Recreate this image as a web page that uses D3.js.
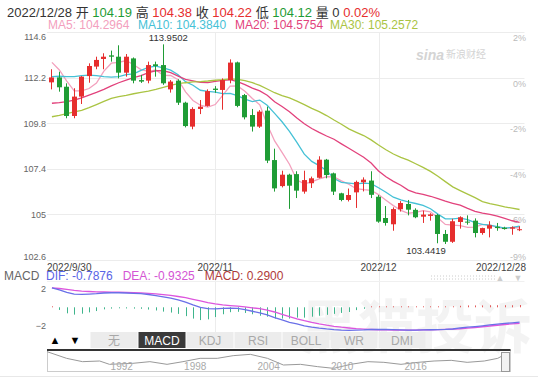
<!DOCTYPE html>
<html>
<head>
<meta charset="utf-8">
<script src="https://cdn.jsdelivr.net/npm/d3@7"></script>
<style>
  body { margin: 0; background: #fff; }
  svg { display: block; font-family: Arial, "Liberation Sans", "Noto Sans CJK SC", sans-serif; }
</style>
</head>
<body>
<div class="chart"></div>
<script>
//daily candles 2022/9/30 - 2022/12/28 (one per weekday)
var opens = [111.95, 112.21, 111.72, 110.18, 111.2, 112.28, 112.78, 113.18, 113.37, 113.3,
  112.46, 113.21, 112.07, 112.04, 112.9, 112.86, 111.58, 112.04, 110.88, 109.62,
  110.55, 110.71, 111.62, 111.55, 112.07, 113.0, 111.28, 110.23, 109.62, 110.46,
  107.86, 106.49, 107.09, 107.12, 106.2, 106.64, 106.93, 107.88, 107.16, 106.11,
  105.76, 106.16, 106.69, 106.78, 105.93, 104.81, 104.48, 105.27, 105.55, 105.24,
  104.88, 104.92, 104.97, 103.97, 103.56, 104.6, 104.62, 104.67, 104.02, 104.25,
  104.35, 104.3, 104.25, 104.19];
var highs = [112.64, 112.51, 111.9, 111.64, 112.28, 112.95, 113.3, 113.48, 113.62, 113.9,
  113.44, 113.26, 112.34, 113.04, 113.04, 113.9502, 112.07, 112.11, 110.93, 110.64,
  111.02, 111.58, 111.75, 112.16, 113.16, 113.04, 111.34, 110.55, 110.49, 110.67,
  108.46, 107.3, 107.14, 107.27, 107.3, 106.99, 108.06, 107.92, 107.2, 106.14,
  106.36, 106.78, 106.95, 107.27, 106.02, 105.44, 105.37, 105.7, 105.76, 105.32,
  105.2, 105.06, 105.02, 104.18, 104.77, 104.9, 104.95, 104.79, 104.3, 104.64,
  104.55, 104.35, 104.37, 104.38];
var lows = [111.58, 111.46, 110.06, 110.06, 110.81, 111.93, 112.64, 112.64, 113.04, 112.16,
  112.25, 111.9, 111.92, 111.9, 112.25, 111.82, 111.41, 110.76, 109.58, 109.48,
  110.28, 110.67, 111.4, 110.51, 111.9, 110.64, 110.0, 109.36, 109.55, 107.7,
  106.2, 106.42, 105.29, 105.86, 106.09, 106.39, 106.9, 106.9, 106.02, 105.69,
  105.68, 105.34, 106.21, 105.86, 104.56, 104.41, 104.14, 105.15, 104.95, 104.8,
  104.55, 104.67, 103.48, 103.4419, 103.5, 104.25, 104.46, 103.79, 103.93, 103.79,
  104.14, 104.2, 103.93, 104.12];
var closes = [112.21, 111.69, 110.18, 111.2, 112.25, 112.81, 113.13, 113.3, 113.3, 112.46,
  113.3, 112.04, 111.99, 112.86, 112.81, 111.9, 111.99, 110.88, 109.65, 110.55,
  110.67, 111.49, 111.55, 112.07, 112.99, 110.71, 110.11, 109.62, 110.41, 107.83,
  106.37, 107.09, 106.51, 106.25, 106.807, 106.9, 107.88, 107.07, 106.2, 105.76,
  106.02, 106.71, 106.83, 106.03, 104.62, 104.55, 105.28, 105.6, 105.248, 104.85,
  104.99, 105.0, 103.97, 103.56, 104.64, 104.85, 104.568, 104.02, 104.28, 104.432,
  104.28, 104.23, 104.32, 104.22];

//moving average values before the window fills
var ma5Head = [113.0, 112.6, 112.02, 111.5];
var ma10Head = [112.25, 112.27, 112.25, 112.25, 112.3, 112.33, 112.3, 112.25, 112.22];
var ma20Head = [110.85, 110.88, 110.93, 111.02, 111.13, 111.28, 111.42, 111.58, 111.76, 111.93,
  112.07, 112.2, 112.3, 112.46, 112.56, 112.56, 112.46, 112.28, 112.11];
var ma30Head = [110.14, 110.21, 110.3, 110.39, 110.48, 110.62, 110.78, 110.95, 111.11, 111.2,
  111.27, 111.35, 111.42, 111.49, 111.58, 111.69, 111.79, 111.88, 111.93, 111.97,
  111.99, 112.02, 112.06, 112.09, 112.13, 112.11, 112.04, 111.93, 111.79];

//MACD lines
var dif = [2.07, 1.86, 1.58, 1.41, 1.38, 1.41, 1.45, 1.52, 1.55, 1.55,
  1.52, 1.49, 1.45, 1.36, 1.25, 1.12, 0.98, 0.8, 0.55, 0.25,
  0.0, -0.14, -0.16, -0.12, -0.08, -0.12, -0.25, -0.42, -0.6, -0.8,
  -1.1, -1.35, -1.6, -1.77, -1.97, -2.1, -2.21, -2.3, -2.37, -2.42,
  -2.45, -2.42, -2.4, -2.36, -2.35, -2.36, -2.38, -2.41, -2.43, -2.42,
  -2.41, -2.39, -2.37, -2.35, -2.31, -2.2, -2.12, -2.05, -1.97, -1.88,
  -1.8, -1.72, -1.65, -1.58];
var dea = [2.07, 2.0, 1.9, 1.8, 1.72, 1.68, 1.65, 1.63, 1.62, 1.6,
  1.58, 1.56, 1.53, 1.48, 1.42, 1.35, 1.26, 1.15, 1.02, 0.85,
  0.68, 0.5, 0.36, 0.25, 0.18, 0.12, 0.05, -0.05, -0.15, -0.3,
  -0.5, -0.75, -1.0, -1.22, -1.42, -1.6, -1.76, -1.9, -2.02, -2.12,
  -2.2, -2.27, -2.32, -2.36, -2.39, -2.41, -2.42, -2.43, -2.43, -2.42,
  -2.41, -2.39, -2.37, -2.35, -2.32, -2.28, -2.22, -2.15, -2.07, -1.99,
  -1.91, -1.83, -1.76, -1.7];

//axis ticks and labels
var priceTicks = [114.6, 112.2, 109.8, 107.4, 105, 102.6];
var macdTicks = [2, -2];
var dateTicks = [0, 22, 44, 63];
var dateLabels = ["2022/9/30", "2022/11", "2022/12", "2022/12/28"];
var tabLabels = ["无", "MACD", "KDJ", "RSI", "BOLL", "WR", "DMI"];

//long history for the navigator strip
var navYears = [1985.9, 1987.5, 1988.8, 1990.2, 1991.0, 1992.9, 1994.3, 1995.7, 1997.0, 1998.4,
  1999.8, 2001.1, 2002.5, 2003.9, 2005.2, 2006.6, 2008.0, 2009.3, 2010.7, 2012.1,
  2013.4, 2014.8, 2016.2, 2017.5, 2018.9, 2020.2, 2021.6, 2022.7, 2023.2];
var navValues = [125, 105, 95, 97, 87, 90, 95, 87, 95, 105,
  105, 113, 117, 105, 85, 87, 80, 75, 87, 95,
  93, 87, 93, 97, 99, 93, 97, 105, 115];
var navLabels = [1992, 1998, 2004, 2010, 2016];

var upColor = "#e62e2e";
var downColor = "#1f9c35";
var maColors = ["#f3a0bd", "#45c1d6", "#e2427c", "#aac443"];

var svgWidth = 538;
var svgHeight = 385;

var plot = { left: 47, right: 524.5, top: 32, bottom: 260 };

var svg = d3.select(".chart")
  .append("svg")
  .attr("width", svgWidth)
  .attr("height", svgHeight);

//scales
var xScale = d3.scaleBand()
  .domain(d3.range(closes.length))
  .range([plot.left, plot.right])
  .padding(0.33);

function cx(i) {
  return xScale(i) + xScale.bandwidth() / 2;
}

var yScale = d3.scaleLinear()
  .domain([102.6, 114.6])
  .range([plot.bottom, plot.top]);

var macdScale = d3.scaleLinear()
  .domain([-2, 2])
  .range([326.1, 288.5]);

//moving averages from the closes, head values where the window is not full
function movingAverage(n, head) {
  return closes.map(function(c, i) {
    if (i < n - 1) return head[i];
    return d3.mean(closes.slice(i - n + 1, i + 1));
  });
}
var maSeries = [
  movingAverage(5, ma5Head),
  movingAverage(10, ma10Head),
  movingAverage(20, ma20Head),
  movingAverage(30, ma30Head)
];
var macdHist = dif.map(function(d, i) { return 2 * (d - dea[i]); });

//grid
var grid = svg.append("g");
grid.selectAll(".hgrid")
  .data(priceTicks)
  .enter()
  .append("line")
  .attr("x1", plot.left)
  .attr("x2", plot.right)
  .attr("y1", d => Math.round(yScale(d)) + 0.5)
  .attr("y2", d => Math.round(yScale(d)) + 0.5)
  .attr("stroke", "#ececec");

grid.selectAll(".vgrid")
  .data(dateTicks.slice(1, 3))
  .enter()
  .append("line")
  .attr("x1", d => Math.round(cx(d)) + 0.5)
  .attr("x2", d => Math.round(cx(d)) + 0.5)
  .attr("y1", plot.top)
  .attr("y2", 332)
  .attr("stroke", "#ececec");

grid.append("line")
  .attr("x1", plot.left).attr("x2", plot.right)
  .attr("y1", 281.5).attr("y2", 281.5)
  .attr("stroke", "#f0f0f0");

//watermarks
svg.append("text")
  .attr("x", 300).attr("y", 348)
  .attr("font-size", 58)
  .attr("font-weight", "bold")
  .attr("fill", "#000")
  .attr("opacity", 0.045)
  .attr("font-family", "'Noto Sans CJK SC', sans-serif")
  .text("黑猫投诉");

svg.append("text")
  .attr("x", 416).attr("y", 60)
  .attr("font-size", 14)
  .attr("font-weight", "bold")
  .attr("font-style", "italic")
  .attr("fill", "#d4d4d4")
  .text("sina");
svg.append("text")
  .attr("x", 446).attr("y", 58)
  .attr("font-size", 10)
  .attr("fill", "#d4d4d4")
  .text("新浪财经");

//left price axis
var leftAxis = d3.axisLeft(yScale).tickValues(priceTicks).tickSize(0).tickPadding(1)
  .tickFormat(d3.format(""));
var yAxis = svg.append("g")
  .attr("transform", `translate(${plot.left}, 0)`)
  .call(leftAxis);
yAxis.select(".domain").remove();
yAxis.selectAll("text")
  .attr("font-size", 9)
  .attr("font-family", "Arial, 'Liberation Sans', sans-serif")
  .attr("fill", "#666")
  .attr("dy", (d, i) => i === 0 ? "0.85em" : (i === priceTicks.length - 1 ? "-0.1em" : "0.32em"));

//right percent axis, relative to the first close
var rightAxis = d3.axisLeft(yScale).tickValues(priceTicks).tickSize(0).tickPadding(0)
  .tickFormat(d => Math.round((d / closes[0] - 1) * 100) + "%");
var pctAxis = svg.append("g")
  .attr("transform", `translate(526, 0)`)
  .call(rightAxis);
pctAxis.select(".domain").remove();
pctAxis.selectAll("text")
  .attr("font-size", 9)
  .attr("font-family", "Arial, 'Liberation Sans', sans-serif")
  .attr("fill", "#bbb")
  .attr("dy", (d, i) => i === priceTicks.length - 1 ? "-0.1em" : "0.95em");

//date labels
svg.append("g")
  .selectAll("text")
  .data(dateTicks)
  .enter()
  .append("text")
  .attr("x", (d, i) => i === 0 ? plot.left : (i === dateTicks.length - 1 ? 526 : cx(d)))
  .attr("y", 270.5)
  .attr("text-anchor", (d, i) => i === 0 ? "start" : (i === dateTicks.length - 1 ? "end" : "middle"))
  .attr("font-size", 10)
  .attr("fill", "#444")
  .text((d, i) => dateLabels[i]);

//moving average lines
var maLine = d3.line()
  .x((d, i) => cx(i))
  .y(d => yScale(d));

svg.append("g")
  .selectAll("path")
  .data(maSeries)
  .enter()
  .append("path")
  .attr("d", maLine)
  .attr("fill", "none")
  .attr("stroke", (d, i) => maColors[i])
  .attr("stroke-width", 1.3);

//candles
var candles = svg.append("g")
  .selectAll("g")
  .data(closes)
  .enter()
  .append("g");

candles.append("line")
  .attr("x1", (d, i) => Math.round(cx(i) - 2.5) + 2.5)
  .attr("x2", (d, i) => Math.round(cx(i) - 2.5) + 2.5)
  .attr("y1", (d, i) => yScale(highs[i]))
  .attr("y2", (d, i) => yScale(lows[i]))
  .attr("stroke", (d, i) => d >= opens[i] ? upColor : downColor);

candles.append("rect")
  .attr("x", (d, i) => Math.round(cx(i) - 2.5))
  .attr("width", 5)
  .attr("y", (d, i) => yScale(Math.max(d, opens[i])))
  .attr("height", (d, i) => Math.max(1, Math.abs(yScale(d) - yScale(opens[i]))))
  .attr("fill", (d, i) => d >= opens[i] ? upColor : downColor);

//highest and lowest marks
var hiIdx = d3.maxIndex(highs);
var loIdx = d3.minIndex(lows);
svg.append("text")
  .attr("x", cx(hiIdx) + 5)
  .attr("y", yScale(highs[hiIdx]) - 3.5)
  .attr("text-anchor", "middle")
  .attr("font-size", 9.5)
  .attr("fill", "#333")
  .text(highs[hiIdx].toFixed(4));
svg.append("text")
  .attr("x", cx(loIdx) + 0.5)
  .attr("y", yScale(lows[loIdx]) + 9.5)
  .attr("text-anchor", "end")
  .attr("font-size", 9.5)
  .attr("fill", "#333")
  .text(lows[loIdx].toFixed(4));

//header lines
var last = closes.length - 1;
var head1 = svg.append("text")
  .attr("x", 7).attr("y", 17.3)
  .attr("font-size", 13);
var head1Parts = [
  ["2022/12/28 开 ", "#333"], [opens[last].toFixed(2), downColor],
  [" 高 ", "#333"], [highs[last].toFixed(2), upColor],
  [" 收 ", "#333"], [closes[last].toFixed(2), upColor],
  [" 低 ", "#333"], [lows[last].toFixed(2), downColor],
  [" 量 0 ", "#333"], ["0.02%", upColor]
];
head1.selectAll("tspan")
  .data(head1Parts)
  .enter()
  .append("tspan")
  .attr("fill", d => d[1])
  .text(d => d[0]);

var maNames = ["MA5", "MA10", "MA20", "MA30"];
var maHeadX = [48, 138, 235, 330];
svg.append("g")
  .selectAll("text")
  .data(maSeries)
  .enter()
  .append("text")
  .attr("x", (d, i) => maHeadX[i])
  .attr("y", 29)
  .attr("font-size", 12)
  .attr("fill", (d, i) => maColors[i])
  .text((d, i) => `${maNames[i]}: ${d[last].toFixed(4)}`);

//MACD panel
var macdHead = svg.append("text")
  .attr("x", 4).attr("y", 280)
  .attr("font-size", 12);
var macdParts = [
  ["MACD  ", "#666"],
  ["DIF: -0.7876   ", "#5a64e6"],
  ["DEA: -0.9325   ", "#d455d4"],
  ["MACD: 0.2900", "#b03a3a"]
];
macdHead.selectAll("tspan")
  .data(macdParts)
  .enter()
  .append("tspan")
  .attr("fill", d => d[1])
  .attr("xml:space", "preserve")
  .text(d => d[0]);

var macdAxis = svg.append("g")
  .attr("transform", `translate(${plot.left}, 0)`)
  .call(d3.axisLeft(macdScale).tickValues(macdTicks).tickSize(0).tickPadding(1).tickFormat(d3.format("d")));
macdAxis.select(".domain").remove();
macdAxis.selectAll("text")
  .attr("font-size", 9)
  .attr("font-family", "Arial, 'Liberation Sans', sans-serif")
  .attr("fill", "#666");

svg.append("g")
  .selectAll("line")
  .data(macdHist)
  .enter()
  .append("line")
  .attr("x1", (d, i) => Math.round(cx(i)) + 0.5)
  .attr("x2", (d, i) => Math.round(cx(i)) + 0.5)
  .attr("y1", macdScale(0))
  .attr("y2", d => macdScale(0) - (d >= 0 ? Math.max(1, macdScale(0) - macdScale(d)) : -Math.max(1, macdScale(d) - macdScale(0))))
  .attr("stroke", d => d >= 0 ? "#e25b5b" : "#3fb58c");

var macdLine = d3.line()
  .x((d, i) => cx(i))
  .y(d => macdScale(d));
svg.append("path").attr("d", macdLine(dea)).attr("fill", "none").attr("stroke", "#dd55dd").attr("stroke-width", 1.3);
svg.append("path").attr("d", macdLine(dif)).attr("fill", "none").attr("stroke", "#6a70e8").attr("stroke-width", 1.3);

//zoom handle at top right of MACD panel
[276, 279].forEach(function(y) {
  svg.append("line")
    .attr("x1", 431).attr("x2", 495)
    .attr("y1", y).attr("y2", y)
    .attr("stroke", "#ccc")
    .attr("stroke-dasharray", "1,2");
});
svg.append("text").attr("x", 500).attr("y", 281).attr("font-size", 9).attr("fill", "#ccc")
  .attr("text-anchor", "middle").text("▲");
svg.append("text").attr("x", 518).attr("y", 281).attr("font-size", 9).attr("fill", "#ccc")
  .attr("text-anchor", "middle").text("▼");

//indicator tabs
svg.append("text").attr("x", 55).attr("y", 344).attr("font-size", 11).attr("text-anchor", "middle").text("▲");
svg.append("text").attr("x", 75).attr("y", 344).attr("font-size", 11).attr("text-anchor", "middle").text("▼");

var tabs = svg.append("g")
  .selectAll("g")
  .data(tabLabels)
  .enter()
  .append("g")
  .attr("transform", (d, i) => `translate(${90.5 + i * 48}, 332)`);
tabs.append("rect")
  .attr("width", 47)
  .attr("height", 16)
  .attr("fill", d => d === "MACD" ? "#3a3a3a" : "#ececec");
tabs.append("text")
  .attr("x", 23.5)
  .attr("y", 12.5)
  .attr("text-anchor", "middle")
  .attr("font-size", 12)
  .attr("fill", d => d === "MACD" ? "#fff" : "#a8a8a8")
  .text(d => d);

//navigator strip
var navX = d3.scaleLinear().domain([1985.9, 2023.7]).range([plot.left, 510]);
var navY = d3.scaleLinear().domain([70, 130]).range([370, 350]);

svg.append("rect")
  .attr("x", plot.left + 0.5).attr("y", 350.5)
  .attr("width", 510 - plot.left).attr("height", 21)
  .attr("fill", "none").attr("stroke", "#ccc");
svg.append("line")
  .attr("x1", plot.left).attr("x2", 510.5)
  .attr("y1", 350).attr("y2", 350)
  .attr("stroke", "#333").attr("stroke-width", 2);

svg.append("path")
  .attr("d", d3.line().x((d, i) => navX(navYears[i])).y(d => navY(d))(navValues))
  .attr("fill", "none")
  .attr("stroke", "#999");

svg.append("g")
  .selectAll("text")
  .data(navLabels)
  .enter()
  .append("text")
  .attr("x", d => navX(d))
  .attr("y", 370)
  .attr("text-anchor", "middle")
  .attr("font-size", 10)
  .attr("fill", "#aaa")
  .text(d => d);

svg.append("rect")
  .attr("x", 501.5).attr("y", 352.5)
  .attr("width", 8).attr("height", 19)
  .attr("fill", "#f2f2f2").attr("stroke", "#999");

svg.append("line")
  .attr("x1", 0).attr("x2", svgWidth)
  .attr("y1", 376.5).attr("y2", 376.5)
  .attr("stroke", "#e8e8e8");
</script>
</body>
</html>
